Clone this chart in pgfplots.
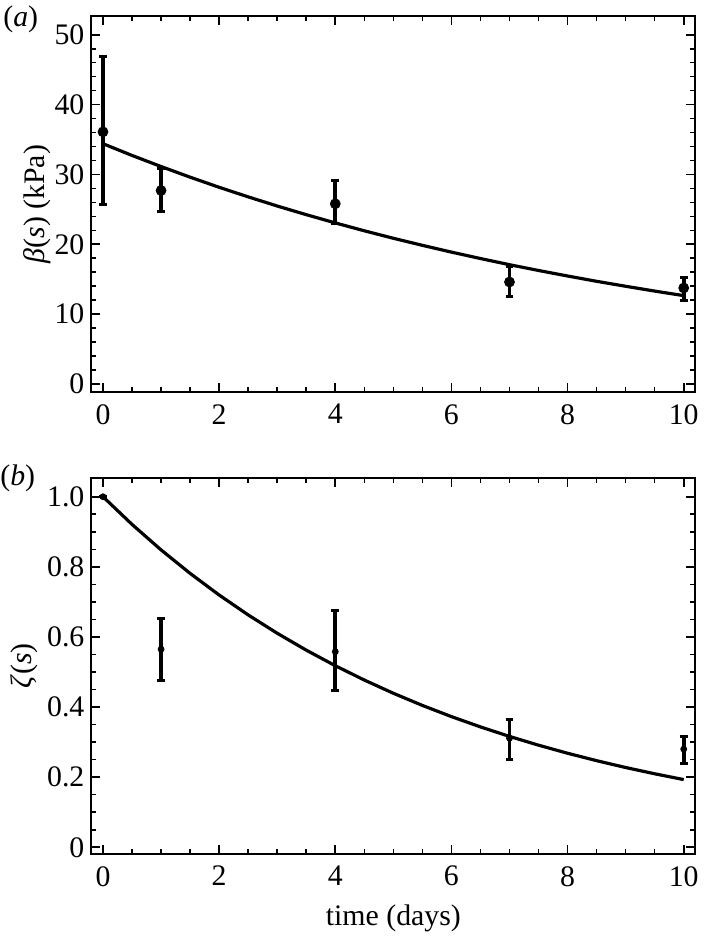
\documentclass[border=0pt]{standalone}
\usepackage{fontspec}
\setmainfont{Liberation Serif}
\usepackage{pgfplots}
\usepackage{pgfplotstable}
\pgfplotsset{compat=1.18}

\pgfplotstableread{
x y ep em
0 36.1 10.8 10.4
1 27.7 3.1 3.0
4 25.8 3.3 2.8
7 14.6 2.2 2.1
10 13.75 1.55 1.75
}\betadata

\pgfplotstableread{
x y
0 34.40
0.5 32.72
1 31.13
1.5 29.61
2 28.16
2.5 26.79
3 25.48
3.5 24.24
4 23.06
4.5 21.93
5 20.86
5.5 19.85
6 18.88
6.5 17.96
7 17.08
7.5 16.25
8 15.46
8.5 14.70
9 13.99
9.5 13.30
10 12.65
}\betafit

\pgfplotstableread{
x y ep em
0 1.0 0 0
1 0.565 0.088 0.090
4 0.558 0.117 0.111
7 0.311 0.053 0.061
10 0.280 0.037 0.040
}\zetadata

\pgfplotstableread{
x y
0 1.0000
0.5 0.9210
1 0.8483
1.5 0.7813
2 0.7196
2.5 0.6628
3 0.6105
3.5 0.5623
4 0.5179
4.5 0.4770
5 0.4393
5.5 0.4046
6 0.3727
6.5 0.3433
7 0.3162
7.5 0.2912
8 0.2682
8.5 0.2470
9 0.2275
9.5 0.2096
10 0.1930
}\zetafit

\pgfplotsset{
  myaxis/.style={
    scale only axis,
    width=304pt, height=189.5pt,
    xmin=-0.2, xmax=10.2,
    xtick={0,2,4,6,8,10},
    minor x tick num=3,
    tick align=inside,
    major tick length=4.5pt,
    minor tick length=2.5pt,
    axis line style={line width=0.9pt},
    every tick/.style={black, line width=0.8pt},
    /pgf/number format/assume math mode=true,
    tick label style={font=\rmfamily\fontsize{15}{18}\selectfont},
    xticklabel style={yshift=-2.5pt},
    clip=false,
  },
  errstyle/.style={
    black, only marks, mark=*,
    error bars/.cd, y dir=both, y explicit,
    error bar style={line width=1.8pt},
    error mark options={rotate=90, mark size=2pt, line width=1.5pt},
    /pgfplots/.cd,
  },
}

\begin{document}
\begin{tikzpicture}
\path (-46pt,-272pt) rectangle (307pt,197.5pt);
\begin{axis}[myaxis,
  ymin=-1.2, ymax=52.7,
  ytick={0,10,20,30,40,50},
  minor y tick num=4,
  every axis y label/.style={at={(rel axis cs:0,0.5)}, xshift=-27.3pt, rotate=90, anchor=center, font=\rmfamily\fontsize{15}{18}\selectfont},
  ylabel={\textit{β}(\textit{s}) (kPa)},
]
\addplot[black, line width=1.6pt] table[x=x,y=y] {\betafit};
\addplot[mark size=2.5pt, errstyle] table[x=x, y=y, y error plus=ep, y error minus=em] {\betadata};
\end{axis}
\node[anchor=west, font=\fontsize{15}{18}\selectfont, inner sep=0pt] at (-44.5pt,188pt) {(\textit{a})};
\node[anchor=west, font=\fontsize{15}{18}\selectfont, inner sep=0pt] at (-46pt,-43.5pt) {(\textit{b})};

\begin{scope}[yshift=-232.5pt]
\begin{axis}[myaxis,
  ymin=-0.02, ymax=1.054,
  ytick={0,0.2,0.4,0.6,0.8,1.0},
  yticklabels={0,0.2,0.4,0.6,0.8,1.0},
  minor y tick num=3,
  every axis y label/.style={at={(rel axis cs:0,0.5)}, xshift=-34pt, rotate=90, anchor=center, font=\rmfamily\fontsize{15}{18}\selectfont},
  ylabel={\textit{ζ}(\textit{s})},
  xlabel={time (days)},
  every axis x label/.style={at={(rel axis cs:0.5,0)}, yshift=-32.5pt, anchor=center, font=\rmfamily\fontsize{15}{18}\selectfont},
]
\addplot[black, line width=1.6pt] table[x=x,y=y] {\zetafit};
\addplot[mark size=1.5pt, errstyle] table[x=x, y=y, y error plus=ep, y error minus=em] {\zetadata};
\end{axis}
\end{scope}
\end{tikzpicture}
\end{document}
